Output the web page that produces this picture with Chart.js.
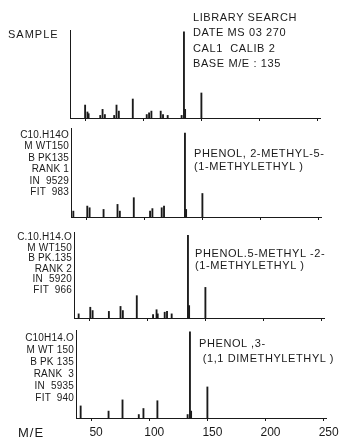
<!DOCTYPE html>
<html>
<head>
<meta charset="utf-8">
<script src="https://cdn.jsdelivr.net/npm/chart.js@4.4.0/dist/chart.umd.min.js"></script>
<style>
  body { margin: 0; background: #fff; }
  #wrap { position: relative; width: 339px; height: 439px; overflow: hidden;
          font-family: "Liberation Sans", Arial, sans-serif; color: #1a1a1a; }
  #wrap canvas { position: absolute; left: 0; top: 0; }
  .t { position: absolute; white-space: pre; font-size: 11px; letter-spacing: 0.6px; }
  .lib { font-size: 10px; letter-spacing: 0.2px; text-align: right; }
</style>
</head>
<body>
<div id="wrap">
  <canvas id="c1" width="339" height="439"></canvas>
  <canvas id="c2" width="339" height="439"></canvas>
  <canvas id="c3" width="339" height="439"></canvas>
  <canvas id="c4" width="339" height="439"></canvas>

  <div class="t" style="left:8px;top:28px;letter-spacing:1px;">SAMPLE</div>
  <div class="t" style="left:193px;top:10px;line-height:15.3px;">LIBRARY SEARCH
DATE MS 03 270
CAL1  CALIB 2
BASE M/E : 135</div>

  <div class="t lib" style="right:270px;top:129px;line-height:11.4px;">C10.H14O
M WT150
B PK135
RANK 1
IN  9529
FIT  983</div>
  <div class="t" style="left:194px;top:147px;line-height:13px;">PHENOL, 2-METHYL-5-
(1-METHYLETHYL )</div>

  <div class="t lib" style="right:267px;top:232px;line-height:10.5px;">C.10.H14.O
M WT150
B PK.135
RANK 2
IN  5920
FIT  966</div>
  <div class="t" style="left:195px;top:247px;line-height:12px;">PHENOL.5-METHYL -2-
(1-METHYLETHYL )</div>

  <div class="t lib" style="right:265px;top:332px;line-height:12px;">C10H14.O
M WT 150
B PK 135
RANK  3
IN  5935
FIT  940</div>
  <div class="t" style="left:199px;top:336px;line-height:15px;">PHENOL ,3-
 (1,1 DIMETHYLETHYL )</div>

  <div class="t" style="left:18px;top:425px;font-size:13px;letter-spacing:1px;">M/E</div>
</div>

<script>
// m/z axis
var mzMin = 37;
var mzMax = 252;
var tickVals = [50, 100, 150, 200, 250];

// unknown sample
var sampleMz  = [50, 52, 53, 63, 65, 67, 75, 77, 79, 91, 103, 105, 107, 115, 117, 121, 133, 135, 136, 150];
var sampleInt = [15, 7, 5, 3, 10, 4, 3, 15, 8, 22, 4, 6, 8, 8, 4, 3, 3, 100, 10, 29];

// library hit rank 1
var rank1Mz  = [39, 51, 53, 65, 77, 79, 91, 105, 107, 115, 117, 135, 136, 150];
var rank1Int = [7, 13, 11, 9, 15, 7, 23, 7, 10, 11, 13, 100, 9, 28];

// library hit rank 2
var rank2Mz  = [41, 51, 53, 67, 77, 79, 91, 105, 108, 109, 115, 117, 121, 135, 136, 150];
var rank2Int = [5, 13, 9, 8, 14, 9, 27, 4, 10, 5, 7, 8, 5, 100, 15, 37];

// library hit rank 3
var rank3Mz  = [41, 65, 77, 91, 95, 107, 133, 135, 136, 150];
var rank3Int = [14, 8, 21, 4, 11, 20, 4, 100, 8, 36];

function spectrum(id, mz, inten, box) {
  var pts = mz.map(function(m, i) { return { x: m, y: inten[i] }; });
  var ink = "#1a1a1a";
  var ctx = document.getElementById(id).getContext("2d");
  return new Chart(ctx, {
    type: "bar",
    data: {
      datasets: [{
        data: pts,
        backgroundColor: ink,
        borderWidth: 0,
        barThickness: 1.2
      }]
    },
    options: {
      responsive: false,
      animation: false,
      events: [],
      layout: {
        autoPadding: false,
        padding: { left: box.left, right: 339 - box.left - 250, top: box.top, bottom: 439 - box.bottom - box.axisH }
      },
      plugins: { legend: { display: false }, tooltip: { enabled: false } },
      scales: {
        x: {
          type: "linear",
          min: mzMin,
          max: mzMax,
          offset: false,
          afterBuildTicks: function(s) { s.ticks = tickVals.map(function(v) { return { value: v }; }); },
          afterFit: function(s) { s.height = box.axisH; },
          grid: { display: true, offset: false, drawOnChartArea: false, drawTicks: true, tickLength: 3, color: ink },
          border: { display: true, color: ink, width: 1 },
          ticks: {
            display: box.labels,
            color: ink,
            padding: 4,
            labelOffset: 5,
            maxRotation: 0,
            autoSkip: false,
            font: { family: "'Liberation Sans', Arial, sans-serif", size: 12 }
          }
        },
        y: {
          min: 0,
          max: box.max,
          afterFit: function(s) { s.width = 0; },
          ticks: { display: false },
          grid: { display: false, drawTicks: false },
          border: { display: true, color: ink, width: 1 }
        }
      }
    }
  });
}

spectrum("c1", sampleMz, sampleInt, { left: 70, top: 30, bottom: 118, max: 102, axisH: 4, labels: false });
spectrum("c2", rank1Mz, rank1Int, { left: 71, top: 128, bottom: 217, max: 106, axisH: 4, labels: false });
spectrum("c3", rank2Mz, rank2Int, { left: 74, top: 232, bottom: 318, max: 104, axisH: 4, labels: false });
spectrum("c4", rank3Mz, rank3Int, { left: 76, top: 330, bottom: 418, max: 102, axisH: 21, labels: true });
</script>
</body>
</html>
